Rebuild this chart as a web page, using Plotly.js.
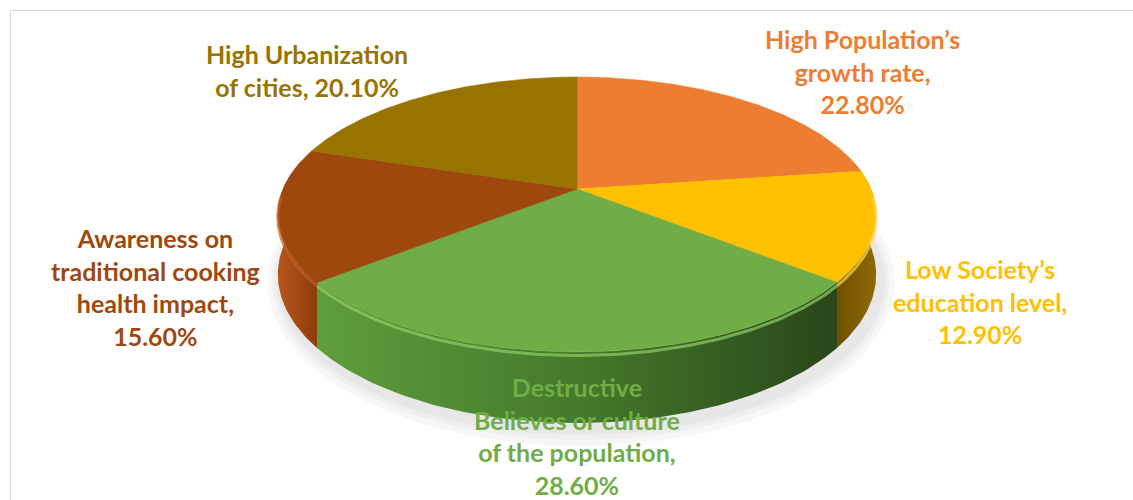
<!DOCTYPE html>
<html>
<head>
<meta charset="utf-8">
<script src="https://cdn.plot.ly/plotly-3.0.1.min.js"></script>
<style>
  html, body { margin: 0; padding: 0; background: #ffffff; }
  #chart { width: 1133px; height: 500px; }
</style>
</head>
<body>
<div id="chart"></div>
<script>
// Slice data, clockwise from 12 o'clock
const categories = [
  "High Population’s growth rate",
  "Low Society’s education level",
  "Destructive Believes or culture of the population",
  "Awareness on traditional cooking health impact",
  "High Urbanization of cities"
];
const shares = [22.8, 12.9, 28.6, 15.6, 20.1];
const labelHeads = [
  "High Population’s<br>growth rate,<br>",
  "Low Society’s<br>education level,<br>",
  "Destructive<br>Believes or culture<br>of the population,<br>",
  "Awareness on<br>traditional cooking<br>health impact,<br>",
  "High Urbanization<br>of cities, "
];

// Styling
const topColors   = ["#ED7D31", "#FFC000", "#70AD47", "#9E480E", "#997300"];
const textColors  = ["#ED7D31", "#FFC000", "#70AD47", "#9E480E", "#997300"];
const rimColors   = ["#F4A066", "#FFD452", "#92CF66", "#C2601F", "#B89020"];
const sideScales  = [
  [[0, "#9a4a14"], [1, "#b85a1c"]],
  [[0, "#6f5000"], [1, "#8f6a06"]],
  [[0, "#5e9e3c"], [0.5, "#447a2a"], [1, "#29461a"]],
  [[0, "#b8561c"], [1, "#8c3c0c"]],
  [[0, "#6f5400"], [1, "#6f5400"]]
];
const labelAnchors = [[862, 71], [980, 301], [577, 436], [155, 287], [307, 70]];

// Projection of the tilted disc (pixel space)
const CX = 577, CY = 189, RX = 294, RY = 132.7, K = 0.185, DEPTH = 58;
function proj(theta, drop) {
  const u = Math.sin(theta), v = Math.cos(theta), w = 1 + K * v;
  return [CX + RX * u / w, CY + (-RY * v + drop) / w];
}
function arc(a, b, drop, step) {
  const pts = [];
  const n = Math.max(2, Math.ceil(Math.abs(b - a) / step));
  for (let i = 0; i <= n; i++) pts.push(proj(a + (b - a) * i / n, drop));
  return pts;
}
const DEG = Math.PI / 180;
const total = shares.reduce((s, v) => s + v, 0);
const starts = [], ends = [];
let acc = 0;
shares.forEach(v => { starts.push(acc / total * 2 * Math.PI); acc += v; ends.push(acc / total * 2 * Math.PI); });

const traces = [];

// soft floor shadow
[14, 9, 5].forEach((s, i) => {
  const pts = [];
  for (let t = 0; t <= 360; t += 3) {
    const th = t * DEG, u = Math.sin(th), v = Math.cos(th), w = 1 + K * v;
    pts.push([CX + 4 + (RX + s) * u / w, CY + 6 + (-(RY + s) * v + DEPTH) / w]);
  }
  traces.push({
    type: "scatter", mode: "lines", fill: "toself",
    x: pts.map(p => p[0]), y: pts.map(p => p[1]),
    line: { width: 0 }, fillcolor: "rgba(0,0,0,0.03)", hoverinfo: "skip"
  });
});

// side walls (front half only), farther pieces first
const VIS_A = 78 * DEG, VIS_B = 282 * DEG;
const sides = [];
shares.forEach((v, i) => {
  const a = Math.max(starts[i], VIS_A), b = Math.min(ends[i], VIS_B);
  if (b <= a) return;
  const top = arc(a, b, 0, 1 * DEG);
  const bot = arc(b, a, DEPTH, 1 * DEG);
  const pts = top.concat(bot);
  pts.push(top[0]);
  sides.push({ i, dist: Math.abs((a + b) / 2 - Math.PI), pts });
});
sides.sort((p, q) => q.dist - p.dist).forEach(s => {
  traces.push({
    type: "scatter", mode: "lines", fill: "toself",
    x: s.pts.map(p => p[0]), y: s.pts.map(p => p[1]),
    line: { width: 0 },
    fillgradient: { type: "horizontal", colorscale: sideScales[s.i] },
    hoverinfo: "skip"
  });
});

// top faces
shares.forEach((v, i) => {
  const pts = [[CX, CY]].concat(arc(starts[i], ends[i], 0, 0.5 * DEG));
  pts.push([CX, CY]);
  traces.push({
    type: "scatter", mode: "lines", fill: "toself",
    x: pts.map(p => p[0]), y: pts.map(p => p[1]),
    line: { width: 0.6, color: topColors[i] }, fillcolor: topColors[i],
    name: categories[i], text: categories[i] + ": " + v.toFixed(2) + "%",
    hoverinfo: "text", hoveron: "fills"
  });
});

// bevel highlight along the front rim
shares.forEach((v, i) => {
  const a = Math.max(starts[i], 92 * DEG), b = Math.min(ends[i], 268 * DEG);
  if (b <= a) return;
  const pts = arc(a, b, 3, 1 * DEG);
  traces.push({
    type: "scatter", mode: "lines",
    x: pts.map(p => p[0]), y: pts.map(p => p[1]),
    line: { width: 3, color: rimColors[i] }, opacity: 0.7, hoverinfo: "skip"
  });
});

const annotations = shares.map((v, i) => ({
  x: labelAnchors[i][0], y: labelAnchors[i][1], xref: "x", yref: "y",
  text: labelHeads[i] + v.toFixed(2) + "%",
  showarrow: false, xanchor: "center", yanchor: "middle", align: "center",
  font: { family: "Lato, 'Open Sans', sans-serif", size: 25, color: textColors[i], weight: 700 }
}));

const layout = {
  width: 1133, height: 500,
  margin: { l: 0, r: 0, t: 0, b: 0 },
  paper_bgcolor: "#ffffff", plot_bgcolor: "#ffffff",
  showlegend: false,
  xaxis: { range: [0, 1133], visible: false, fixedrange: true },
  yaxis: { range: [500, 0], visible: false, fixedrange: true },
  annotations: annotations,
  shapes: [{
    type: "rect", xref: "x", yref: "y", x0: 10.5, y0: 10.5, x1: 1145, y1: 510,
    line: { color: "#d9d9d9", width: 1 }, layer: "below"
  }],
  font: { family: "Lato, sans-serif" }
};

Plotly.newPlot("chart", traces, layout, { displayModeBar: false, staticPlot: true });
</script>
</body>
</html>
